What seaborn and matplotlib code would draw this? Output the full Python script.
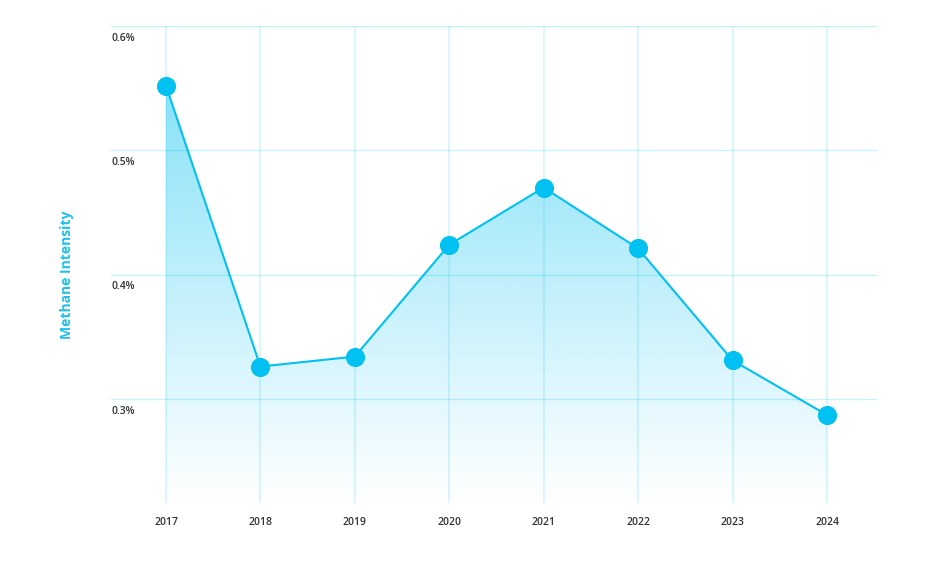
import numpy as np
import pandas as pd
import matplotlib.pyplot as plt
import seaborn as sns
from matplotlib.colors import to_rgb

years = [2017, 2018, 2019, 2020, 2021, 2022, 2023, 2024]
intensity = [0.552, 0.326, 0.334, 0.424, 0.470, 0.421, 0.331, 0.287]
y_ticks = [0.3, 0.4, 0.5, 0.6]
y_tick_labels = ["0.3%", "0.4%", "0.5%", "0.6%"]

df = pd.DataFrame({"year": years, "intensity": intensity})

sns.set_style("white")
plt.rcParams["font.family"] = ["Open Sans", "DejaVu Sans"]

line_color = "#00c1f1"

fig = plt.figure(figsize=(9.38, 5.63), dpi=100)
W, H = 938, 563
ax = fig.add_axes([111 / W, 1 - 503 / H, (877 - 111) / W, (503 - 26) / H])

ymin, ymax = 0.2162, 0.6
ax.set_xlim(2016.418, 2024.53)
ax.set_ylim(ymin, ymax)

# gradient fill under the line
poly = ax.fill_between(df["year"], df["intensity"], ymin, color="none", lw=0)
grad = np.zeros((256, 1, 4))
grad[:, 0, :3] = to_rgb(line_color)
grad[:, 0, 3] = np.linspace(0.47, 0.0, 256)
img = ax.imshow(grad, extent=[min(years), max(years), ymin, max(intensity)],
                aspect="auto", origin="upper", zorder=1)
img.set_clip_path(poly.get_paths()[0], transform=ax.transData)

# grid (drawn over the fill, semi-transparent)
for yv in y_ticks:
    ax.axhline(yv, color=line_color, alpha=0.22, lw=1, zorder=2)
for xv in years:
    ax.axvline(xv, color=line_color, alpha=0.14, lw=1.5, zorder=2)

sns.lineplot(data=df, x="year", y="intensity", ax=ax, color=line_color, lw=1.5,
             marker="o", markersize=13, markeredgecolor=line_color,
             markerfacecolor=line_color, zorder=3)

for s in ax.spines.values():
    s.set_visible(False)

ax.set_yticks([])
ax.set_xticks(years)
ax.set_xticklabels([str(y) for y in years], fontsize=7.5, fontweight="semibold",
                   color="#333333")
ax.tick_params(axis="x", length=0, pad=10)

for yv, lab in zip(y_ticks, y_tick_labels):
    ax.text(0, yv - 0.0055, lab, transform=ax.get_yaxis_transform(), ha="left",
            va="top", fontsize=7.5, fontweight="semibold", color="#333333")

ax.set_xlabel("")
ax.set_ylabel("")
fig.text(67 / W, 1 - 275 / H, "Methane Intensity", rotation=90, ha="center",
         va="center", fontsize=10, fontweight="bold", color="#1ec0ea")

fig.savefig("out.png", dpi=100)
